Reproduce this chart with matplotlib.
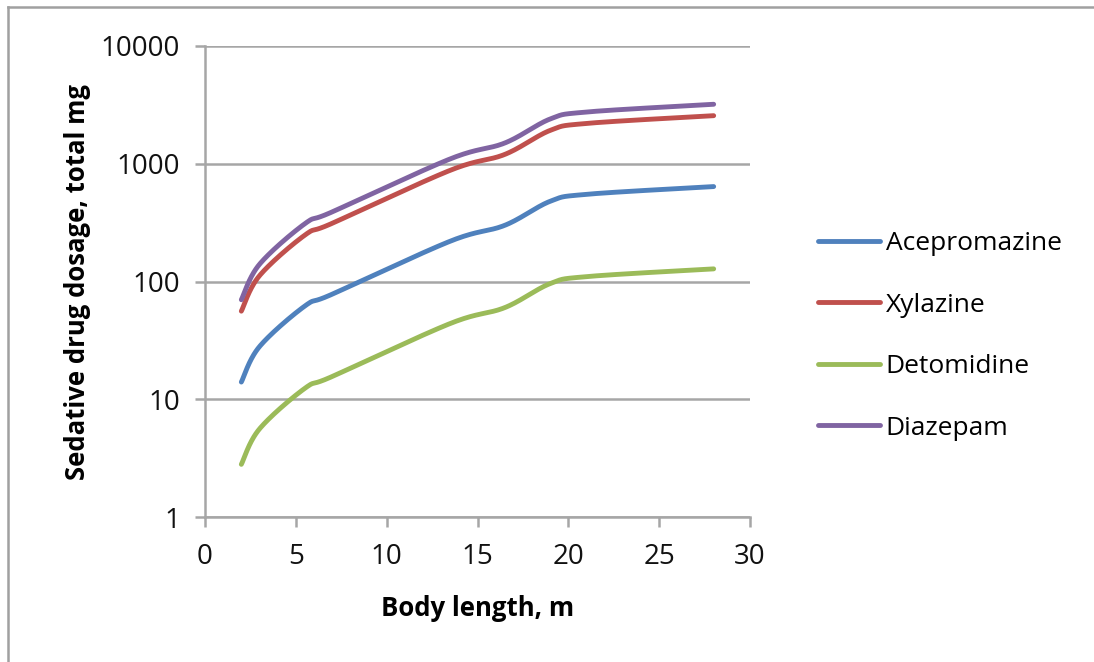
import numpy as np
import matplotlib
matplotlib.use("Agg")
import matplotlib.pyplot as plt
from matplotlib.lines import Line2D

# ---- data ----
body_length = [2, 3, 5.5, 7, 13.5, 16.5, 19, 21, 28]
acepromazine = [14, 28, 62, 78, 220, 300, 480, 550, 640]
xylazine = [56, 112, 248, 312, 880, 1200, 1920, 2200, 2560]
detomidine = [2.8, 5.6, 12.4, 15.6, 44, 60, 96, 110, 128]
diazepam = [70, 140, 310, 390, 1100, 1500, 2400, 2750, 3200]
series_names = ["Acepromazine", "Xylazine", "Detomidine", "Diazepam"]
x_ticks = [0, 5, 10, 15, 20, 25, 30]
y_ticks = [1, 10, 100, 1000, 10000]
y_ticklabels = ["1", "10", "100", "1000", "10000"]

colors = ["#4F81BD", "#C0504D", "#9BBB59", "#8064A2"]


def smooth(xs, ys, n=40):
    """Excel-style smoothed line (Catmull-Rom Bezier) in (x, log y) space."""
    P = np.column_stack([np.asarray(xs, float), np.log10(np.asarray(ys, float))])
    out = []
    m = len(P)
    for i in range(m - 1):
        p0 = P[i - 1] if i > 0 else P[i]
        p1 = P[i]
        p2 = P[i + 1]
        p3 = P[i + 2] if i + 2 < m else P[i + 1]
        c1 = p1 + (p2 - p0) / 6.0
        c2 = p2 - (p3 - p1) / 6.0
        t = np.linspace(0, 1, n, endpoint=(i == m - 2))[:, None]
        b = ((1 - t) ** 3) * p1 + 3 * ((1 - t) ** 2) * t * c1 + 3 * (1 - t) * t ** 2 * c2 + t ** 3 * p2
        out.append(b)
    B = np.vstack(out)
    return B[:, 0], 10 ** B[:, 1]


plt.rcParams["font.family"] = ["Open Sans", "DejaVu Sans"]

fig = plt.figure(figsize=(10.94, 6.62), dpi=100)
ax = fig.add_axes([205 / 1094, 1 - 517 / 662, (750 - 205) / 1094, (517 - 46) / 662])

grid_c = "#A6A6A6"
for i, (name, vals) in enumerate(zip(series_names, [acepromazine, xylazine, detomidine, diazepam])):
    sx, sy = smooth(body_length, vals)
    ax.plot(sx, sy, color=colors[i], lw=3.5, solid_capstyle="round", label=name, zorder=3)

ax.set_yscale("log")
ax.set_ylim(1, 10000)
ax.set_xlim(0, 30)
ax.set_xticks(x_ticks)
ax.set_xticklabels([str(v) for v in x_ticks])
ax.set_yticks(y_ticks)
ax.set_yticklabels(y_ticklabels)
ax.yaxis.set_minor_locator(matplotlib.ticker.NullLocator())
ax.grid(axis="y", color=grid_c, lw=1.8, zorder=1)
ax.set_axisbelow(True)
for s in ["top", "right"]:
    ax.spines[s].set_visible(False)
for s in ["left", "bottom"]:
    ax.spines[s].set_color(grid_c)
    ax.spines[s].set_linewidth(1.8)
ax.tick_params(axis="both", colors=grid_c, length=7, width=1.8, labelsize=20,
               labelcolor="#111111", direction="out")
ax.tick_params(axis="y", pad=11)
ax.tick_params(axis="x", pad=12)

ax.set_xlabel("Body length, m", fontsize=18.5, fontweight="bold", labelpad=17)
ax.set_ylabel("Sedative drug dosage, total mg", fontsize=18.5, fontweight="bold", labelpad=7)

leg = ax.legend(loc="upper left", bbox_to_anchor=(1.106, 0.629), frameon=False,
                fontsize=19, handlelength=2.35, handletextpad=0.2, labelspacing=1.38,
                borderaxespad=0)

# chart frame (top and left border)
fig.add_artist(Line2D([7.5 / 1094, 1], [1 - 6.5 / 662, 1 - 6.5 / 662], color="#A0A0A0", lw=1.8,
                      transform=fig.transFigure))
fig.add_artist(Line2D([7.5 / 1094, 7.5 / 1094], [0, 1 - 6.5 / 662], color="#A0A0A0", lw=1.8,
                      transform=fig.transFigure))

fig.savefig("out.png", dpi=100)
